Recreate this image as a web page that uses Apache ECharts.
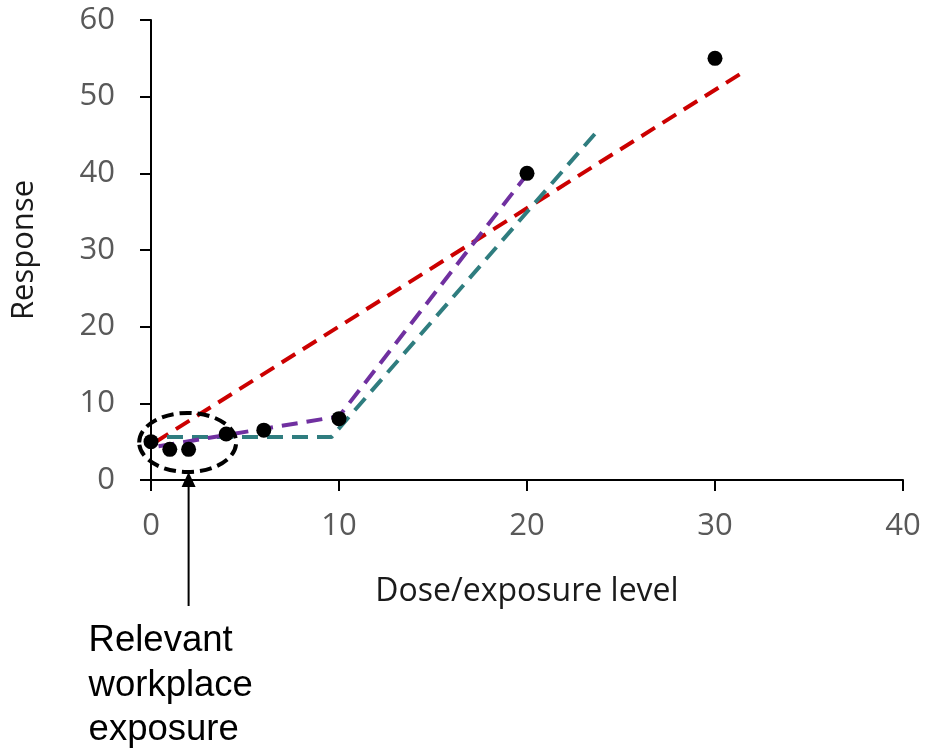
<!DOCTYPE html>
<html>
<head>
<meta charset="utf-8">
<script src="https://cdn.jsdelivr.net/npm/echarts@6/dist/echarts.min.js"></script>
<style>
html,body{margin:0;padding:0;background:#fff;}
#chart{width:926px;height:749px;}
</style>
</head>
<body>
<div id="chart"></div>
<script>
// Observed data
const doseLevels = [0, 1, 2, 4, 6, 10, 20, 30];
const responses = [5, 4, 4, 6, 6.5, 8, 40, 55];
// Fitted model lines
const linearFit = [[0.2, 4.9], [31.5, 53.2]];
const piecewiseFit = [[0.4, 4.4], [10, 8.3], [20.3, 40.8]];
const thresholdFit = [[0.85, 5.6], [9.6, 5.6], [23.7, 45.4]];
// Axis ticks
const xTicks = [0, 10, 20, 30, 40];
const yTicks = [0, 10, 20, 30, 40, 50, 60];
// Annotation (data units)
const exposureLevel = 2;
const ellipseCenter = [1.95, 4.9];
const ellipseRadii = [2.58, 3.85];
const annotationLines = ['Relevant', 'workplace', 'exposure'];

const chart = echarts.init(document.getElementById('chart'));
const tickFont = {color: '#595959', fontSize: 31, fontFamily: 'Open Sans'};
const option = {
  animation: false,
  grid: {left: 151, right: 23, top: 20, bottom: 269},
  xAxis: {
    type: 'value', min: xTicks[0], max: xTicks[xTicks.length - 1], interval: 10,
    name: 'Dose/exposure level', nameLocation: 'middle', nameGap: 96,
    nameTextStyle: {color: '#1a1a1a', fontSize: 32, fontFamily: 'Open Sans'},
    axisLine: {lineStyle: {color: '#000', width: 2}},
    axisTick: {length: 11, lineStyle: {color: '#000', width: 2}},
    axisLabel: Object.assign({margin: 31}, tickFont),
    splitLine: {show: false}
  },
  yAxis: {
    type: 'value', min: yTicks[0], max: yTicks[yTicks.length - 1], interval: 10,
    name: 'Response', nameLocation: 'middle', nameGap: 111,
    nameTextStyle: {color: '#1a1a1a', fontSize: 31, fontFamily: 'Open Sans'},
    axisLine: {show: true, lineStyle: {color: '#000', width: 2}},
    axisTick: {show: true, length: 11, lineStyle: {color: '#000', width: 2}},
    axisLabel: Object.assign({margin: 36}, tickFont),
    splitLine: {show: false}
  },
  series: [
    {type: 'line', data: linearFit, symbol: 'none', z: 2,
     lineStyle: {color: '#cc0000', width: 4, type: [16, 9]}},
    {type: 'line', data: thresholdFit, symbol: 'none', z: 2,
     lineStyle: {color: '#2f7d7f', width: 4, type: [16, 9]}},
    {type: 'line', data: piecewiseFit, symbol: 'none', z: 3,
     lineStyle: {color: '#7030a0', width: 4, type: [16, 9]}},
    {type: 'scatter', data: doseLevels.map((d, i) => [d, responses[i]]),
     symbolSize: 15, itemStyle: {color: '#000', opacity: 1}, z: 5}
  ]
};
chart.setOption(option);

const c = chart.convertToPixel({gridIndex: 0}, ellipseCenter);
const e = chart.convertToPixel({gridIndex: 0}, [ellipseCenter[0] + ellipseRadii[0], ellipseCenter[1] + ellipseRadii[1]]);
const rx = e[0] - c[0], ry = c[1] - e[1];
const ax = chart.convertToPixel({gridIndex: 0}, [exposureLevel, 0])[0];
const tipY = c[1] + ry;
const bottomY = 606;
const textX = ax - 100;
const baseY = 641;
const lineGap = 44.5;

chart.setOption({
  graphic: [
    {type: 'ellipse', shape: {cx: c[0], cy: c[1], rx: rx, ry: ry}, z: 10,
     style: {fill: null, stroke: '#000', lineWidth: 4, lineDash: [12, 6]}},
    {type: 'line', shape: {x1: ax, y1: bottomY, x2: ax, y2: tipY + 12}, z: 10,
     style: {stroke: '#000', lineWidth: 2}},
    {type: 'polygon', shape: {points: [[ax, tipY], [ax - 7, tipY + 15], [ax + 7, tipY + 15]]}, z: 10,
     style: {fill: '#000'}}
  ].concat(annotationLines.map((t, i) => ({
    type: 'text', x: textX, y: baseY + i * lineGap, z: 10,
    style: {text: t, fill: '#000', font: '36.5px "Liberation Sans", Arial', verticalAlign: 'middle', align: 'left'}
  })))
});
</script>
</body>
</html>
